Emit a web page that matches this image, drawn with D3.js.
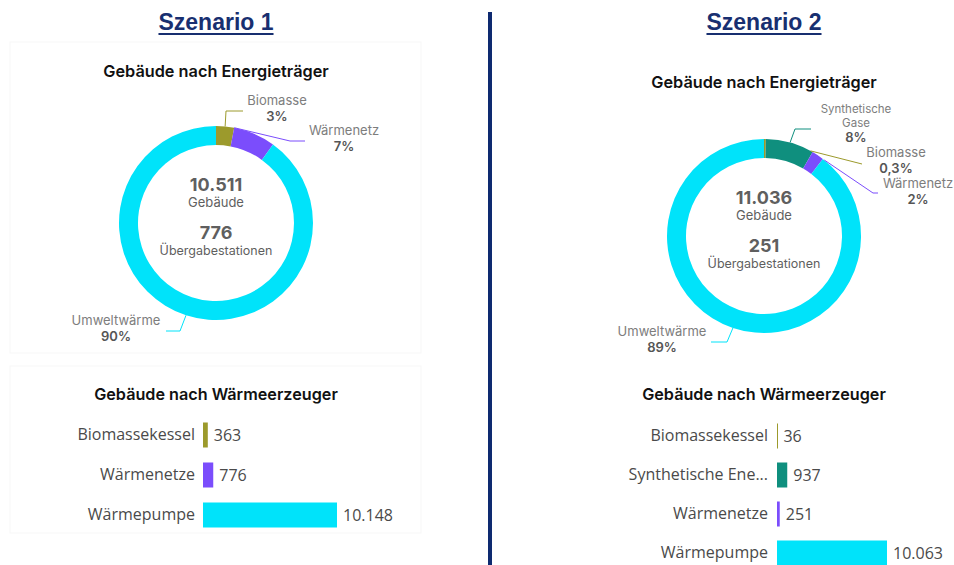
<!DOCTYPE html>
<html lang="de">
<head>
<meta charset="utf-8">
<title>Szenario 1 und 2 – Gebäude nach Energieträger und Wärmeerzeuger</title>
<script src="https://cdn.jsdelivr.net/npm/d3@7"></script>
<style>
  html, body { margin: 0; padding: 0; background: #fff; }
  svg { display: block; }
</style>
</head>
<body>
<svg id="chart" width="954" height="565"></svg>
<script>
// ---- Data -------------------------------------------------------------
const scenarioNames = ["Szenario 1", "Szenario 2"];

// Donut: share of buildings by energy carrier (percent)
const carrierNames1  = ["Biomasse", "Wärmenetz", "Umweltwärme"];
const carrierShares1 = [3, 7, 90];
const carrierNames2  = ["Biomasse", "Synthetische Gase", "Wärmenetz", "Umweltwärme"];
const carrierShares2 = [0.3, 8, 2, 89];
const shareLabels1   = ["3%", "7%", "90%"];
const shareLabels2   = ["0,3%", "8%", "2%", "89%"];

// Totals shown in the donut hole
const buildingTotals = ["10.511", "11.036"];
const stationTotals  = ["776", "251"];

// Bars: buildings by heat generator
const generatorNames1  = ["Biomassekessel", "Wärmenetze", "Wärmepumpe"];
const generatorCounts1 = [363, 776, 10148];
const generatorNames2  = ["Biomassekessel", "Synthetische Ene...", "Wärmenetze", "Wärmepumpe"];
const generatorCounts2 = [36, 937, 251, 10063];
const countLabels1 = ["363", "776", "10.148"];
const countLabels2 = ["36", "937", "251", "10.063"];

// ---- Styling ----------------------------------------------------------
const colour = {
  "Biomasse": "#9c9a2c",
  "Biomassekessel": "#9c9a2c",
  "Wärmenetz": "#7b4dfc",
  "Wärmenetze": "#7b4dfc",
  "Umweltwärme": "#00e3fa",
  "Wärmepumpe": "#00e3fa",
  "Synthetische Gase": "#0f8f7e",
  "Synthetische Ene...": "#0f8f7e"
};
const navy = "#182f70";
const uiFont = "Inter, 'Noto Sans', sans-serif";
const barFont = "'Open Sans', 'Noto Sans', sans-serif";

const svg = d3.select("#chart");

// ---- Scenario headers and divider ---------------------------------------
const headerX = [216, 764];
scenarioNames.forEach((name, i) => {
  const t = svg.append("text")
    .attr("x", headerX[i]).attr("y", 30)
    .attr("text-anchor", "middle")
    .attr("font-family", "'Liberation Sans', Arial, sans-serif")
    .attr("font-weight", "bold")
    .attr("font-size", 23)
    .attr("fill", navy)
    .text(name);
  const w = t.node().getComputedTextLength();
  svg.append("line")
    .attr("x1", headerX[i] - w / 2).attr("x2", headerX[i] + w / 2)
    .attr("y1", 34).attr("y2", 34)
    .attr("stroke", navy).attr("stroke-width", 2);
});
svg.append("line")
  .attr("x1", 490).attr("x2", 490).attr("y1", 12).attr("y2", 565)
  .attr("stroke", "#0e2a70").attr("stroke-width", 4);

// faint card outlines on the left side
svg.append("rect").attr("x", 10).attr("y", 42).attr("width", 411).attr("height", 311)
  .attr("fill", "none").attr("stroke", "#f7f7f7");
svg.append("rect").attr("x", 10).attr("y", 366).attr("width", 411).attr("height", 167)
  .attr("fill", "none").attr("stroke", "#f7f7f7");

// ---- Donut charts -------------------------------------------------------
// Label layout: elbow / end of leader relative to the donut centre and text anchor point
const donutLayout = [
  {
    cx: 216, cy: 223, titleY: 77,
    labels: [
      { elbow: [10, -112], end: [27, -112], text: [61, -118] },
      { anchorAngle: 0.19, elbow: [74, -82], end: [89, -82], text: [128, -88] },
      { elbow: [-36, 108], end: [-50, 108], text: [-100, 102] }
    ]
  },
  {
    cx: 764, cy: 236, titleY: 88,
    labels: [
      { anchorAngle: 0.50, elbow: [98, -72], end: [98, -72], text: [132, -79] },
      { elbow: [31, -107], end: [47, -107], text: [92, -123] },
      { anchorAngle: 0.67, elbow: [109, -43], end: [114, -43], text: [154, -48] },
      { elbow: [-37, 106], end: [-53, 106], text: [-102, 100] }
    ]
  }
];

const rOuter = 97, rInner = 78;
const donuts = [
  { names: carrierNames1, shares: carrierShares1, labels: shareLabels1 },
  { names: carrierNames2, shares: carrierShares2, labels: shareLabels2 }
];

donuts.forEach((d, i) => {
  const L = donutLayout[i];
  const g = svg.append("g").attr("transform", `translate(${L.cx},${L.cy})`);

  svg.append("text")
    .attr("x", L.cx).attr("y", L.titleY)
    .attr("text-anchor", "middle")
    .attr("font-family", uiFont).attr("font-weight", 600).attr("font-size", 16.3)
    .attr("fill", "#111")
    .text("Gebäude nach Energieträger");

  const rows = d.names.map((n, k) => ({ name: n, value: d.shares[k], label: d.labels[k] }));
  const pie = d3.pie().value(r => r.value).sort(null);
  const arcs = pie(rows);
  const arc = d3.arc().innerRadius(rInner).outerRadius(rOuter);

  g.selectAll("path.slice").data(arcs).join("path")
    .attr("class", "slice")
    .attr("d", arc)
    .attr("fill", a => colour[a.data.name]);

  // leader lines and labels
  arcs.forEach((a, k) => {
    const lay = L.labels[k];
    const ang = lay.anchorAngle !== undefined ? lay.anchorAngle : (a.startAngle + a.endAngle) / 2;
    const start = [rOuter * Math.sin(ang), -rOuter * Math.cos(ang)];
    g.append("polyline")
      .attr("points", [start, lay.elbow, lay.end].map(p => p.join(",")).join(" "))
      .attr("fill", "none")
      .attr("stroke", colour[a.data.name])
      .attr("stroke-width", 1);

    const wrapped = a.data.name === "Synthetische Gase";
    const nameLines = wrapped ? ["Synthetische", "Gase"] : [a.data.name];
    const lineGap = 13.5;
    nameLines.forEach((ln, j) => {
      g.append("text")
        .attr("x", lay.text[0]).attr("y", lay.text[1] + j * lineGap)
        .attr("text-anchor", "middle")
        .attr("font-family", uiFont).attr("font-size", wrapped ? 11.5 : 13)
        .attr("fill", "#7d7d7d").text(ln);
    });
    g.append("text")
      .attr("x", lay.text[0]).attr("y", lay.text[1] + (nameLines.length - 1) * lineGap + (wrapped ? 15 : 16))
      .attr("text-anchor", "middle")
      .attr("font-family", uiFont).attr("font-size", 13)
      .attr("fill", "#555").attr("font-weight", 600).text(a.data.label);
  });

  // totals in the donut hole
  const centre = [
    { text: buildingTotals[i], dy: -39, size: 18, weight: 700 },
    { text: "Gebäude", dy: -21.5, size: 13, weight: 400 },
    { text: stationTotals[i], dy: 9.5, size: 18, weight: 700 },
    { text: "Übergabestationen", dy: 27.5, size: 12.5, weight: 400 }
  ];
  g.selectAll("text.centre").data(centre).join("text")
    .attr("class", "centre")
    .attr("x", 0).attr("y", c => c.dy)
    .attr("text-anchor", "middle")
    .attr("dominant-baseline", "central")
    .attr("font-family", uiFont)
    .attr("font-size", c => c.size)
    .attr("font-weight", c => c.weight)
    .attr("fill", "#5f5f5f")
    .text(c => c.text);
});

// ---- Bar charts ---------------------------------------------------------
const barLayout = [
  { cx: 216, titleY: 400, x0: 203, width: 134, top: 415, step: 40, labelX: 195 },
  { cx: 764, titleY: 400, x0: 777, width: 110, top: 416.5, step: 39, labelX: 768 }
];
const bars = [
  { names: generatorNames1, counts: generatorCounts1, labels: countLabels1 },
  { names: generatorNames2, counts: generatorCounts2, labels: countLabels2 }
];

bars.forEach((b, i) => {
  const L = barLayout[i];
  svg.append("text")
    .attr("x", L.cx).attr("y", L.titleY)
    .attr("text-anchor", "middle")
    .attr("font-family", uiFont).attr("font-weight", 600).attr("font-size", 16.2)
    .attr("fill", "#111")
    .text("Gebäude nach Wärmeerzeuger");

  const rows = b.names.map((n, k) => ({ name: n, value: b.counts[k], label: b.labels[k] }));
  const y = d3.scaleBand()
    .domain(b.names)
    .range([L.top, L.top + L.step * b.names.length])
    .paddingInner(1 - 25 / L.step)
    .paddingOuter((1 - 25 / L.step) / 2);
  const x = d3.scaleLinear()
    .domain([0, d3.max(b.counts)])
    .range([L.x0, L.x0 + L.width]);

  const g = svg.append("g");
  g.selectAll("rect").data(rows).join("rect")
    .attr("x", x(0))
    .attr("y", r => y(r.name))
    .attr("width", r => Math.max(1, x(r.value) - x(0)))
    .attr("height", y.bandwidth())
    .attr("fill", r => colour[r.name]);

  // category axis (labels only)
  const axis = d3.axisLeft(y).tickSize(0).tickPadding(0);
  const ax = svg.append("g").attr("transform", `translate(${L.labelX},0)`).call(axis);
  ax.select(".domain").remove();
  ax.selectAll("text")
    .attr("font-family", barFont).attr("font-size", 16).attr("fill", "#4a4a4a");

  g.selectAll("text.value").data(rows).join("text")
    .attr("class", "value")
    .attr("x", r => x(r.value) + 6)
    .attr("y", r => y(r.name) + y.bandwidth() / 2)
    .attr("dominant-baseline", "central")
    .attr("font-family", barFont).attr("font-size", 16).attr("fill", "#4a4a4a")
    .text(r => r.label);
});
</script>
</body>
</html>
